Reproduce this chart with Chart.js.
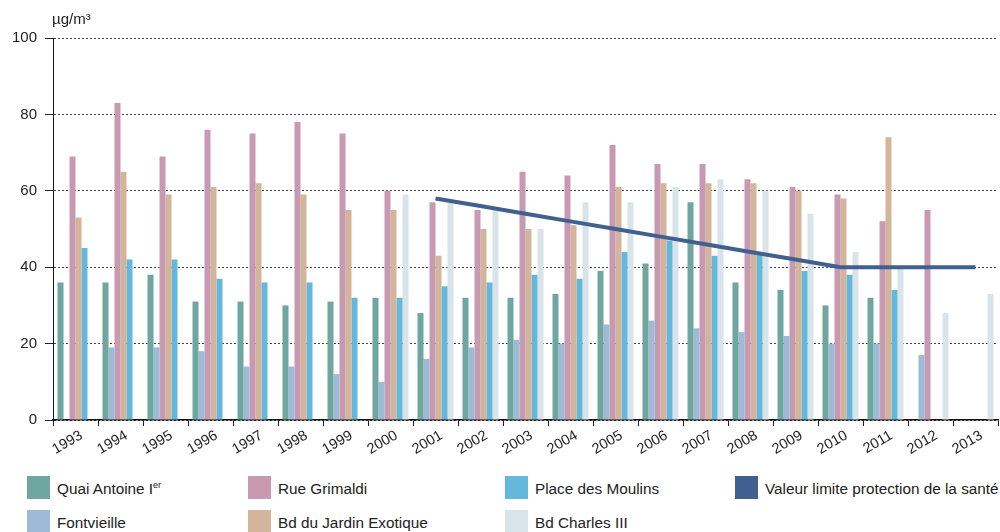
<!DOCTYPE html>
<html>
<head>
<meta charset="utf-8">
<script src="https://cdn.jsdelivr.net/npm/chart.js@4/dist/chart.umd.min.js"></script>
<style>
  html, body { margin: 0; padding: 0; background: #fff; }
  body { width: 1000px; height: 532px; position: relative; overflow: hidden; font-family: "Liberation Sans", Arial, sans-serif; color: #222; }
  #wrap { position: absolute; left: 0; top: 0; width: 1000px; height: 465px; }
  .item { position: absolute; height: 23px; line-height: 23px; font-size: 15.3px; white-space: nowrap; }
  .item span.box { position: absolute; left: 0; top: 0; width: 23px; height: 23px; }
  .item span.txt { position: absolute; left: 30px; top: 1px; }
  sup { font-size: 9px; vertical-align: 6px; line-height: 0; }
</style>
</head>
<body>
<div id="wrap"><canvas id="chart"></canvas></div>
<div id="legend"></div>
<script>
// Données (µg/m3)
const years = ['1993', '1994', '1995', '1996', '1997', '1998', '1999', '2000', '2001', '2002', '2003',
  '2004', '2005', '2006', '2007', '2008', '2009', '2010', '2011', '2012', '2013'];
const quaiAntoine = [36, 36, 38, 31, 31, 30, 31, 32, 28, 32, 32, 33, 39, 41, 57, 36, 34, 30, 32, null, null];
const fontvieille = [null, 19, 19, 18, 14, 14, 12, 10, 16, 19, 21, 20, 25, 26, 24, 23, 22, 20, 20, 17, null];
const rueGrimaldi = [69, 83, 69, 76, 75, 78, 75, 60, 57, 55, 65, 64, 72, 67, 67, 63, 61, 59, 52, 55, null];
const jardinExotique = [53, 65, 59, 61, 62, 59, 55, 55, 43, 50, 50, 51, 61, 62, 62, 62, 60, 58, 74, null, null];
const placeMoulins = [45, 42, 42, 37, 36, 36, 32, 32, 35, 36, 38, 37, 44, 47, 43, 44, 39, 38, 34, null, null];
const charlesIII = [null, null, null, null, null, null, null, 59, 57, 55, 50, 57, 57, 61, 63, 60, 54, 44, 40, 28, 33];
const valeurLimite = [null, null, null, null, null, null, null, null, 58, 56, 54, 52, 50, 48, 46, 44, 42, 40, 40, 40, 40];
const yTicks = [0, 20, 40, 60, 80, 100];

const FONT = '"Liberation Sans", Arial, sans-serif';

const series = [
  { label: 'Quai Antoine I', sup: 'er', data: quaiAntoine, color: '#6FA6A0' },
  { label: 'Fontvieille', data: fontvieille, color: '#9DBAD6' },
  { label: 'Rue Grimaldi', data: rueGrimaldi, color: '#C79AB2' },
  { label: 'Bd du Jardin Exotique', data: jardinExotique, color: '#D2B59A' },
  { label: 'Place des Moulins', data: placeMoulins, color: '#64B8DC' },
  { label: 'Bd Charles III', data: charlesIII, color: '#D9E4EA' }
];
const limite = { label: 'Valeur limite protection de la santé', data: valeurLimite, color: '#41608F' };

const datasets = series.map(s => ({
  type: 'bar',
  label: s.label,
  data: s.data,
  backgroundColor: s.color,
  borderWidth: 0,
  categoryPercentage: 0.8,
  barPercentage: 1,
  order: 1
}));
datasets.push({
  type: 'line',
  label: limite.label,
  data: limite.data,
  borderColor: limite.color,
  borderWidth: 4,
  pointRadius: 0,
  fill: false,
  tension: 0,
  order: 0
});

// unité en haut de l'axe
const unitPlugin = {
  id: 'unit',
  afterDraw(chart) {
    const ctx = chart.ctx;
    ctx.save();
    ctx.fillStyle = '#222';
    ctx.font = '15px ' + FONT;
    ctx.textBaseline = 'alphabetic';
    ctx.fillText('µg/m³', 52, 24);
    ctx.restore();
  }
};

new Chart(document.getElementById('chart').getContext('2d'), {
  data: { labels: years, datasets: datasets },
  plugins: [unitPlugin],
  options: {
    responsive: true,
    maintainAspectRatio: false,
    animation: false,
    layout: { padding: { top: 38, right: 2, left: 0, bottom: 0 } },
    plugins: { legend: { display: false }, tooltip: { enabled: false } },
    scales: {
      x: {
        offset: true,
        afterFit: s => { s.height = 45; },
        grid: { offset: true, drawOnChartArea: false, drawTicks: true, tickLength: 6, color: '#222', lineWidth: 1 },
        border: { display: true, color: '#111', width: 1.5 },
        ticks: {
          autoSkip: false, minRotation: 30, maxRotation: 30, padding: 1, labelOffset: 6,
          color: '#222', font: { family: FONT, size: 14.5 }
        }
      },
      y: {
        min: 0, max: 100,
        afterFit: s => { s.width = 53; },
        afterBuildTicks: s => { s.ticks = yTicks.map(v => ({ value: v })); },
        grid: { color: '#444', lineWidth: 1, tickLength: 8, tickColor: '#222', tickBorderDash: [] },
        border: { display: true, color: '#111', width: 1, dash: [2, 2] },
        ticks: { padding: 8, color: '#222', font: { family: FONT, size: 15 } }
      }
    }
  }
});

// légende en colonnes
const legendItems = [series[0], series[1], series[2], series[3], series[4], series[5], limite];
const colX = [27, 248, 505, 735];
const rowY = [476, 510];
const legend = document.getElementById('legend');
legendItems.forEach((it, i) => {
  const col = Math.floor(i / 2), row = i % 2;
  const div = document.createElement('div');
  div.className = 'item';
  div.style.left = colX[col] + 'px';
  div.style.top = rowY[row] + 'px';
  div.innerHTML = '<span class="box" style="background:' + it.color + '"></span>' +
    '<span class="txt">' + it.label + (it.sup ? '<sup>' + it.sup + '</sup>' : '') + '</span>';
  legend.appendChild(div);
});
</script>
</body>
</html>
